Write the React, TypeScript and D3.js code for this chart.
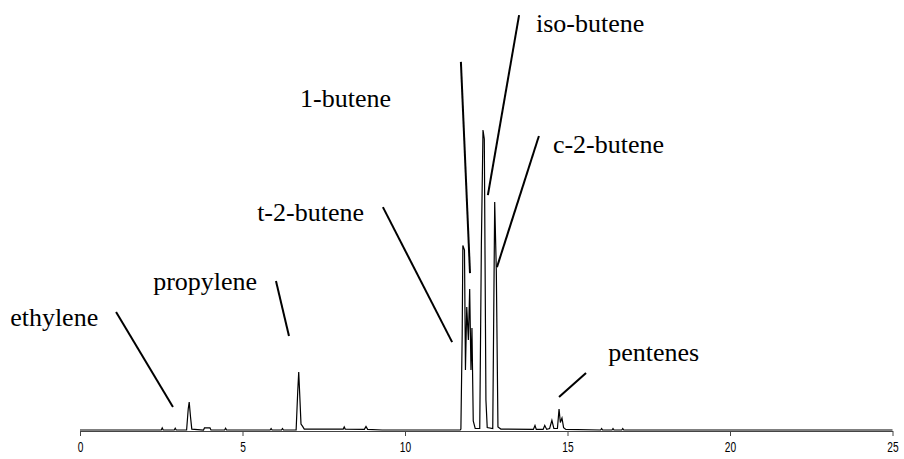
import { useEffect, useRef } from "react";
import * as d3 from "d3";

// retention time (min) and detector signal (arbitrary units, 0-100)
const times = [
  0, 2.5, 2.53, 2.56, 2.9, 2.93, 2.96, 3.28, 3.33, 3.36, 3.4, 3.44,
  3.8, 3.83, 4.0, 4.03, 4.45, 4.48, 4.51, 5.85, 5.88, 5.91, 6.2, 6.23, 6.26,
  6.65, 6.7, 6.73, 6.76, 6.8, 6.85, 6.9, 7.5, 8.1, 8.13, 8.16, 8.75, 8.8, 8.85, 9.3,
  11.7, 11.72, 11.76, 11.78, 11.83, 11.86, 11.9, 11.95, 11.99, 12.03, 12.06, 12.1, 12.16,
  12.3, 12.35, 12.4, 12.44, 12.49, 12.53, 12.7, 12.76, 12.81, 12.86, 12.95,
  13.95, 14.0, 14.04, 14.25, 14.3, 14.36, 14.45, 14.52, 14.58, 14.69, 14.74, 14.78,
  14.83, 14.88, 14.95, 16.02, 16.05, 16.08, 16.37, 16.4, 16.43, 16.67, 16.7, 16.73, 25,
];
const signal = [
  0, 0, 0.7, 0, 0, 0.6, 0, 0, 7, 9.3, 4.4, 0.3,
  0, 0.7, 0.7, 0, 0, 0.6, 0, 0, 0.5, 0, 0, 0.5, 0,
  0, 13, 19.3, 12, 2, 1.2, 0.3, 0.3, 0.3, 1.0, 0.3, 0.2, 1.2, 0.2, 0,
  0, 0.3, 32, 61.5, 60, 20, 41, 30, 47, 20, 34, 3, 0.5,
  0.5, 62, 100, 97, 10, 0.8, 0.5, 76, 53, 1, 0.3,
  0.2, 1.5, 0.2, 0.2, 1.5, 0.2, 0.5, 3.2, 0.5, 0.5, 7, 2.5,
  4, 0.8, 0.2, 0, 0.5, 0, 0, 0.5, 0, 0, 0.5, 0, 0,
];

const xTicks = [0, 5, 10, 15, 20, 25];

// peak names, text anchor and leader line, all in (time, signal) units
const peakNames = ["ethylene", "propylene", "t-2-butene", "1-butene", "iso-butene", "c-2-butene", "pentenes"];
const labelAt = [[-2.15, 34.7], [2.25, 46.7], [5.45, 69.7], [6.77, 107.7], [14.03, 132.7], [14.55, 92.3], [16.25, 23]];
const leaderFrom = [[1.11, 39.3], [6.03, 49.7], [9.32, 74.3], [11.72, 122.7], [13.51, 138.3], [14.12, 98], [15.57, 19]];
const leaderTo = [[2.86, 7.7], [6.43, 31.3], [11.45, 29.3], [12.0, 52.3], [12.55, 78.3], [12.83, 54.3], [14.74, 11]];

const width = 904;
const height = 459;

export default function App() {
  const gx = useRef<SVGGElement | null>(null);

  const x = d3.scaleLinear().domain([0, 25]).range([80, 892.5]);
  const y = d3.scaleLinear().domain([0, 100]).range([430, 130]);

  const pts: [number, number][] = times.map((t, i) => [t, signal[i]]);
  const line = d3
    .line<[number, number]>()
    .x((d) => x(d[0]))
    .y((d) => y(d[1]));

  useEffect(() => {
    if (!gx.current) return;
    const g = d3.select(gx.current);
    g.selectAll("*").remove();
    g.call(
      d3
        .axisBottom(x)
        .tickValues(xTicks)
        .tickSize(5)
        .tickSizeOuter(0)
        .tickPadding(5)
        .tickFormat(d3.format("d"))
    );
    g.select(".domain").attr("stroke", "#444");
    g.selectAll(".tick line").attr("stroke", "#444");
    // the tick digits are tall and narrow in the original
    g.selectAll(".tick text")
      .attr("fill", "#000")
      .attr("transform", "scale(0.68,1)")
      .style("font-family", "'Liberation Sans', Arial, sans-serif")
      .style("font-size", "15px");
  }, []);

  return (
    <svg
      width={width}
      height={height}
      style={{ position: "fixed", left: 0, top: 0, background: "#fff" }}
    >
      <g ref={gx} transform="translate(0,431)" />
      <path d={line(pts) ?? ""} fill="none" stroke="#000" strokeWidth={1.2} />
      {peakNames.map((name, i) => (
        <g key={name}>
          <line
            x1={x(leaderFrom[i][0])}
            y1={y(leaderFrom[i][1])}
            x2={x(leaderTo[i][0])}
            y2={y(leaderTo[i][1])}
            stroke="#000"
            strokeWidth={2}
          />
          <text
            x={x(labelAt[i][0])}
            y={y(labelAt[i][1])}
            fontFamily="'Liberation Serif', 'Times New Roman', serif"
            fontSize={26}
            fill="#000"
          >
            {name}
          </text>
        </g>
      ))}
    </svg>
  );
}
